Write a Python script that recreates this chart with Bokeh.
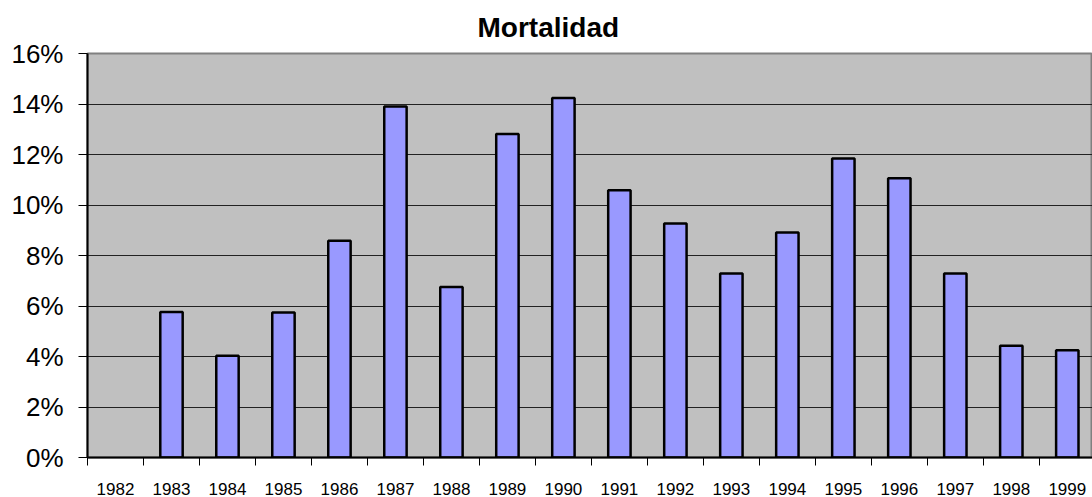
import math
from bokeh.plotting import figure
from bokeh.models import Range1d, FixedTicker, NumeralTickFormatter, ColumnDataSource, Title
from bokeh.embed import file_html
from bokeh.resources import INLINE

# ---- data ----
years = [1982, 1983, 1984, 1985, 1986, 1987, 1988, 1989, 1990,
         1991, 1992, 1993, 1994, 1995, 1996, 1997, 1998, 1999]
mortalidad_pct = [float("nan"), 5.76, 4.03, 5.74, 8.58, 13.90, 6.75, 12.81, 14.24,
                  10.58, 9.27, 7.29, 8.91, 11.84, 11.06, 7.29, 4.43, 4.25]
y_ticks_pct = [0, 2, 4, 6, 8, 10, 12, 14, 16]
title_text = "Mortalidad"

# ---- derived ----
pos = list(range(len(years)))
src = ColumnDataSource(dict(x=pos, top=[v / 100 for v in mortalidad_pct],
                            year=[str(y) for y in years]))

FONT = "Liberation Sans"

p = figure(width=1092, height=497, output_backend="svg", toolbar_location=None, tools="",
           x_range=Range1d(-0.5, len(years) - 0.55), y_range=Range1d(0, 0.16),
           min_border_left=87, min_border_right=0, min_border_top=53, min_border_bottom=39,
           background_fill_color="#C0C0C0", border_fill_color="white")

p.title = Title(text=title_text, align="left", offset=390, text_font=FONT,
                text_font_size="28px", text_font_style="bold", text_color="black",
                standoff=17, vertical_align="top")

p.outline_line_color = "#808080"
p.outline_line_width = 2

p.vbar(x="x", top="top", bottom=0, width=0.4, source=src,
       fill_color="#9999FF", line_color="black", line_width=2.5)

# y axis
p.yaxis.ticker = FixedTicker(ticks=[t / 100 for t in y_ticks_pct])
p.yaxis.formatter = NumeralTickFormatter(format="0%")
p.yaxis.major_label_text_font = FONT
p.yaxis.major_label_text_font_size = "26px"
p.yaxis.major_label_text_color = "black"
p.yaxis.major_tick_in = 0
p.yaxis.major_tick_out = 9
p.yaxis.major_tick_line_color = "black"
p.yaxis.minor_tick_line_color = None
p.yaxis.axis_line_color = "black"
p.yaxis.axis_line_width = 2
p.yaxis.major_label_standoff = 15

# x axis: labels at centres, ticks at category boundaries
p.xaxis.ticker = FixedTicker(ticks=pos, minor_ticks=[i - 0.5 for i in pos] + [len(pos) - 0.5])
p.xaxis.major_label_overrides = {i: str(y) for i, y in zip(pos, years)}
p.xaxis.major_tick_in = 0
p.xaxis.major_tick_out = 0
p.xaxis.minor_tick_in = 0
p.xaxis.minor_tick_out = 8
p.xaxis.minor_tick_line_color = "black"
p.xaxis.minor_tick_line_width = 1
p.xaxis.major_label_text_font = FONT
p.xaxis.major_label_text_font_size = "17px"
p.xaxis.major_label_text_color = "black"
p.xaxis.major_label_standoff = 17
p.xaxis.axis_line_color = "black"
p.xaxis.axis_line_width = 2

p.xgrid.grid_line_color = None
p.ygrid.grid_line_color = "#222222"
p.ygrid.grid_line_width = 1

open("out.html", "w").write(file_html(p, INLINE))
